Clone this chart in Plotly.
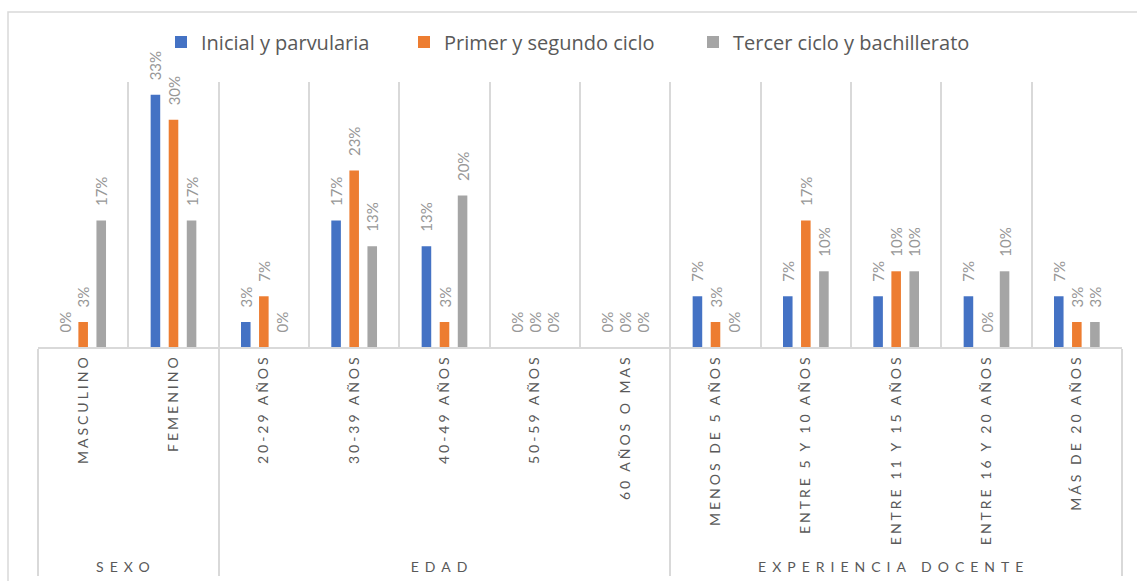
import plotly.graph_objects as go

groups = ["SEXO", "EDAD", "EXPERIENCIA DOCENTE"]
group_sizes = [2, 5, 5]
categories = ["MASCULINO", "FEMENINO", "20-29 AÑOS", "30-39 AÑOS", "40-49 AÑOS",
              "50-59 AÑOS", "60 AÑOS O MAS", "MENOS DE 5 AÑOS", "ENTRE 5 Y 10 AÑOS",
              "ENTRE 11 Y 15 AÑOS", "ENTRE 16 Y 20 AÑOS", "MÁS DE 20 AÑOS"]
series_names = ["Inicial y parvularia", "Primer y segundo ciclo", "Tercer ciclo y bachillerato"]
inicial = [0, 33.3, 3.3, 16.7, 13.3, 0, 0, 6.7, 6.7, 6.7, 6.7, 6.7]
primer = [3.3, 30.0, 6.7, 23.3, 3.3, 0, 0, 3.3, 16.7, 10.0, 0, 3.3]
tercer = [16.7, 16.7, 0, 13.3, 20.0, 0, 0, 0, 10.0, 10.0, 10.0, 3.3]
colors = ["#4472C4", "#ED7D31", "#A5A5A5"]

def spaced(t, px):
    return '<span style="letter-spacing:%dpx">%s</span>' % (px, t)

outer = []
for g, n in zip(groups, group_sizes):
    outer += [spaced(g, 6)] * n
inner = [spaced(c, 3) for c in categories]

W, H = 1137, 581
L, R, T, B = 38, 15, 82, 234
pw, ph = W - L - R, H - T - B

legend_ids = ["legend", "legend2", "legend3"]
legend_text_px = [203, 446, 735]

fig = go.Figure()
for name, vals, col, lid in zip(series_names, [inicial, primer, tercer], colors, legend_ids):
    fig.add_trace(go.Bar(
        x=[outer, inner], y=vals, name=name, marker_color=col,
        marker_line_width=0, legend=lid, showlegend=True,
        text=["\u00a0\u00a0\u00a0" + f"{v:.0f}%" for v in vals], textposition="outside",
        textangle=-90, constraintext="none", cliponaxis=False,
        textfont=dict(family="Lato", size=15, color="#979797"),
    ))

legend_common = dict(orientation="h", xanchor="left", yanchor="middle",
                     y=1 + 40 / ph, font=dict(family="Open Sans", size=20, color="#595959"),
                     bgcolor="rgba(0,0,0,0)", borderwidth=0, visible=True)
legends = {}
for lid, tx in zip(legend_ids, legend_text_px):
    legends[lid] = dict(legend_common, x=(tx - 42 - L) / pw)

fig.update_layout(
    width=W, height=H, showlegend=True,
    margin=dict(l=L, r=R, t=T, b=B, autoexpand=False),
    paper_bgcolor="white", plot_bgcolor="white",
    barmode="group", bargap=0.4, bargroupgap=0.47,
    font=dict(family="Lato", color="#595959"),
    xaxis=dict(type="multicategory", tickson="boundaries", showgrid=True,
               gridcolor="#d9d9d9", gridwidth=1.5, showline=True, linecolor="#d9d9d9",
               linewidth=1.5, tickangle=-90, ticks="", showdividers=True,
               dividercolor="#d9d9d9", dividerwidth=1.5,
               tickfont=dict(family="Lato", size=14, color="#595959"), automargin=False),
    yaxis=dict(range=[0, 35], showgrid=False, zeroline=False, showticklabels=False,
               showline=False, fixedrange=True),
    shapes=[dict(type="rect", xref="paper", yref="paper",
                 x0=(8 - L) / pw, x1=(W + 20 - L) / pw,
                 y0=-(H + 20 - T - ph) / ph, y1=1 + (T - 12) / ph,
                 line=dict(color="#d9d9d9", width=1.5), layer="below")],
    **legends,
)

fig.write_html("out.html", config={"displayModeBar": False},
               post_script="document.body.style.margin='0';")
